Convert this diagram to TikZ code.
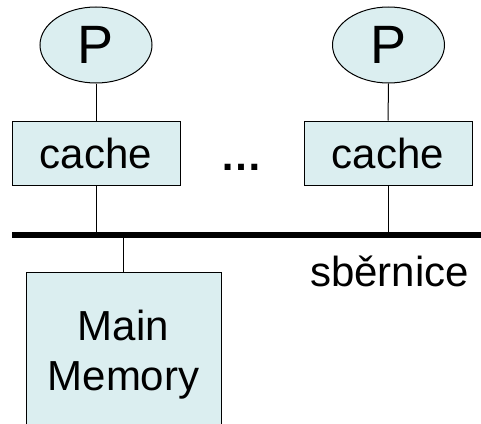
\documentclass[tikz,border=0pt]{standalone}
\usepackage{fontspec}
\setmainfont{Liberation Sans}
\usetikzlibrary{shapes.geometric}
\definecolor{boxfill}{RGB}{219,238,240}
\tikzset{
  proc/.style={draw=black, line width=1pt, fill=boxfill, ellipse, inner sep=0pt,
    minimum width=112pt, minimum height=76pt, font=\fontsize{54}{60}\selectfont},
  cachebox/.style={draw=black, line width=1pt, fill=boxfill, rectangle, inner sep=0pt,
    minimum width=168pt, minimum height=64pt, font=\fontsize{42}{50}\selectfont},
  membox/.style={draw=black, line width=1pt, fill=boxfill, rectangle, inner sep=0pt,
    minimum width=195pt, minimum height=165pt, align=center, font=\fontsize{42}{50}\selectfont},
  wire/.style={draw=black, line width=1pt},
  bus/.style={draw=black, line width=6pt},
  lbl/.style={inner sep=0pt, font=\fontsize{42}{50}\selectfont}
}
\begin{document}
\begin{tikzpicture}[x=1pt,y=-1pt]
\useasboundingbox (0,0) rectangle (481,423);
\clip (0,0) rectangle (481,423);
\node[proc] (p1) at (96,45) {P};
\node[proc] (p2) at (388.5,45) {P};
\node[cachebox] (c1) at (96,153) {cache};
\node[cachebox] (c2) at (388,153) {cache};
\node[lbl, anchor=base, font=\fontsize{42}{50}\selectfont\bfseries] (dots) at (241,170) {…};
\coordinate (busL) at (12,235);
\coordinate (busR) at (484,235);
\draw[bus] (busL) -- (busR);
\node[membox] (mem) at (123.5,354.5) {Main\\Memory};
\node[lbl, anchor=base west] (busname) at (310,286) {sběrnice};
\draw[wire] (p1.south) -- (c1.north);
\draw[wire] (p2.south) -- (c2.north);
\draw[wire] (c1.south) -- (c1.south |- busL);
\draw[wire] (c2.south) -- (c2.south |- busL);
\draw[wire] (mem.north) -- (mem.north |- busL);
\end{tikzpicture}
\end{document}
